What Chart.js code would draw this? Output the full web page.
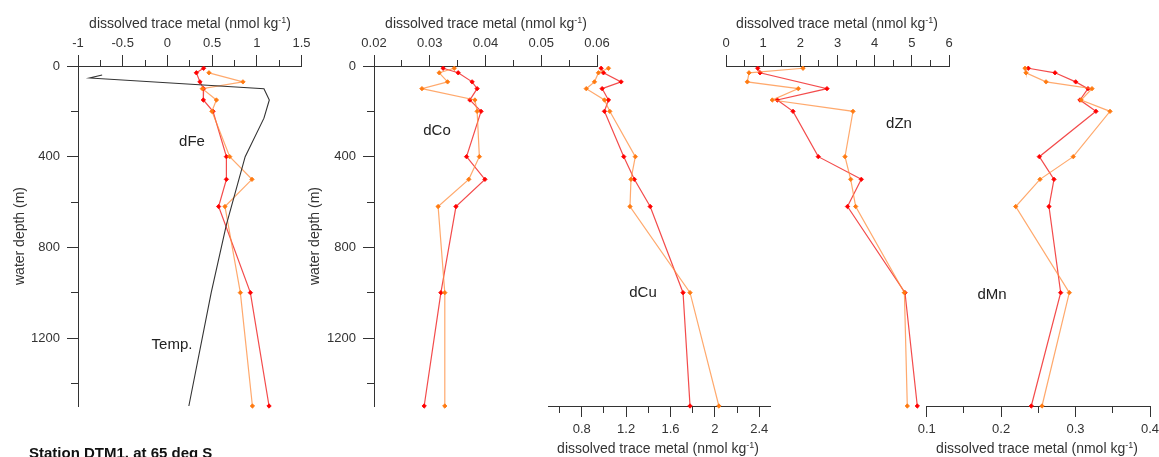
<!DOCTYPE html>
<html>
<head>
<meta charset="utf-8">
<script src="https://cdn.jsdelivr.net/npm/chart.js@4.4.1/dist/chart.umd.min.js"></script>
<style>
  html, body { margin: 0; padding: 0; background: #fff; }
  body { width: 1159px; height: 457px; position: relative; overflow: hidden;
         font-family: "Liberation Sans", Arial, sans-serif; color: #333; }
  canvas { position: absolute; top: 0; }
  .lbl { position: absolute; transform: translate(-50%, -50%); white-space: nowrap; }
  .axt { font-size: 14px; }
  .axt sup { font-size: 9px; line-height: 0; vertical-align: 5px; }
  .pl { font-size: 15px; color: #222; }
  #station { position: absolute; left: 29px; top: 445px; font-weight: bold; font-size: 15px;
             line-height: 15px; color: #111; white-space: nowrap; }
</style>
</head>
<body>
<canvas id="cFe" width="330" height="457" style="left:0px"></canvas>
<canvas id="cCo" width="330" height="457" style="left:290px"></canvas>
<canvas id="cCu" width="280" height="457" style="left:520px"></canvas>
<canvas id="cZn" width="280" height="457" style="left:700px"></canvas>
<canvas id="cMn" width="259" height="457" style="left:900px"></canvas>

<div class="lbl axt" style="left:190px;top:23px">dissolved trace metal (nmol kg<sup>-1</sup>)</div>
<div class="lbl axt" style="left:486px;top:23px">dissolved trace metal (nmol kg<sup>-1</sup>)</div>
<div class="lbl axt" style="left:837px;top:23px">dissolved trace metal (nmol kg<sup>-1</sup>)</div>
<div class="lbl axt" style="left:658px;top:448px">dissolved trace metal (nmol kg<sup>-1</sup>)</div>
<div class="lbl axt" style="left:1037px;top:448px">dissolved trace metal (nmol kg<sup>-1</sup>)</div>

<div class="lbl pl" style="left:192px;top:140px">dFe</div>
<div class="lbl pl" style="left:172px;top:343px">Temp.</div>
<div class="lbl pl" style="left:437px;top:129px">dCo</div>
<div class="lbl pl" style="left:643px;top:291px">dCu</div>
<div class="lbl pl" style="left:899px;top:122px">dZn</div>
<div class="lbl pl" style="left:992px;top:293px">dMn</div>
<div id="station">Station DTM1, at 65 deg S</div>

<script>
// sampling depths (m)
const depths = [10, 30, 70, 100, 150, 200, 400, 500, 620, 1000, 1500];

const feRed    = [0.405, 0.324, 0.364, 0.405, 0.402, 0.51, 0.66, 0.66, 0.573, 0.928, 1.137];
const feOrange = [null, 0.465, 0.845, 0.391, 0.548, 0.498, 0.697, 0.946, 0.644, 0.816, 0.951];

const tempDepths = [40, 53, 100, 150, 230, 400, 700, 1000, 1500];
const tempVals   = [-0.73, -0.87, 1.08, 1.14, 1.08, 0.87, 0.66, 0.49, 0.24];

const coRed    = [0.0324, 0.0351, 0.0376, 0.0385, 0.0372, 0.0392, 0.0366, 0.0399, 0.0347, 0.0320, 0.0290];
const coOrange = [0.0344, 0.0317, 0.0332, 0.0286, 0.0381, 0.0385, 0.0389, 0.0370, 0.0315, 0.0327, 0.0327];

const cuRed    = [0.975, 0.996, 1.155, 0.984, 1.041, 1.005, 1.179, 1.274, 1.417, 1.713, 1.776];
const cuOrange = [1.041, 0.951, 0.915, 0.841, 1.005, 1.053, 1.283, 1.244, 1.235, 1.776, 2.036];

const znRed    = [0.853, 0.915, null, 2.717, 1.380, 1.803, 2.483, 3.640, 3.269, 4.816, 5.147];
const znOrange = [2.072, 0.619, 0.573, 1.945, 1.246, 3.417, 3.202, 3.355, 3.489, 4.80, 4.878];

const mnRed    = [0.2365, 0.2724, 0.3002, 0.3167, 0.3059, 0.3274, 0.2513, 0.2710, 0.2643, 0.2800, 0.2405];
const mnOrange = [0.2321, 0.2334, 0.2603, 0.3221, 0.3074, 0.3463, 0.2969, 0.2522, 0.2196, 0.2916, 0.2549];

// ticks (all) and labelled ticks
const depthTicks  = [0, 200, 400, 600, 800, 1000, 1200, 1400];
const depthLabels = [0, 400, 800, 1200];
const feTicks  = [-1, -0.75, -0.5, -0.25, 0, 0.25, 0.5, 0.75, 1, 1.25, 1.5];
const feLabels = [-1, -0.5, 0, 0.5, 1, 1.5];
const coTicks  = [0.02, 0.025, 0.03, 0.035, 0.04, 0.045, 0.05, 0.055, 0.06];
const coLabels = [0.02, 0.03, 0.04, 0.05, 0.06];
const cuTicks  = [0.6, 0.8, 1, 1.2, 1.4, 1.6, 1.8, 2, 2.2, 2.4];
const cuLabels = [0.8, 1.2, 1.6, 2, 2.4];
const znTicks  = [0, 0.5, 1, 1.5, 2, 2.5, 3, 3.5, 4, 4.5, 5, 5.5, 6];
const znLabels = [0, 1, 2, 3, 4, 5, 6];
const mnTicks  = [0.1, 0.15, 0.2, 0.25, 0.3, 0.35, 0.4];
const mnLabels = [0.1, 0.2, 0.3, 0.4];

Chart.defaults.font.family = '"Liberation Sans", Arial, sans-serif';
Chart.defaults.font.size = 13;
Chart.defaults.color = '#333';

const TOP = 66, BOTTOM = 406, H = 457;
const INK = '#333';

function series(vals, dep, point, line) {
    return {
        data: dep.map((d, i) => ({ x: vals[i], y: d })).filter(p => p.x !== null),
        borderColor: line,
        backgroundColor: point,
        pointBackgroundColor: point,
        pointBorderColor: point,
        borderWidth: 1.2,
        pointRadius: 2.2,
        pointBorderWidth: 0.8,
        pointStyle: 'rectRot',
        tension: 0,
        clip: false
    };
}

// minor ticks are drawn shorter using a dash pattern
function tickGrid(labels, len, minorLen, fromFar) {
    return {
        drawOnChartArea: false,
        drawTicks: true,
        tickLength: len,
        tickColor: INK,
        tickWidth: 1,
        tickBorderDash: ctx => {
            if (!ctx.tick || labels.includes(ctx.tick.value)) return [];
            return fromFar ? [0, len - minorLen, minorLen, 40] : [minorLen, 40];
        }
    };
}

function profile(id, cfg) {
    const top = cfg.pos === 'top';
    new Chart(document.getElementById(id), {
        type: 'line',
        data: { datasets: cfg.sets },
        options: {
            responsive: false,
            animation: false,
            events: [],
            layout: { padding: {
                left: cfg.padL, right: cfg.padR,
                top: top ? 0 : TOP,
                bottom: top ? H - BOTTOM : 0
            } },
            plugins: { legend: { display: false }, tooltip: { enabled: false } },
            scales: {
                x: {
                    type: 'linear',
                    position: cfg.pos,
                    min: cfg.min, max: cfg.max,
                    border: { display: true, color: INK, width: 1 },
                    grid: tickGrid(cfg.labels, 11, 6, top),
                    ticks: {
                        autoSkip: false, maxRotation: 0, padding: top ? 4 : 5, color: INK,
                        callback: v => cfg.labels.includes(v) ? String(v) : ''
                    },
                    afterBuildTicks: s => { s.ticks = cfg.ticks.map(v => ({ value: v })); },
                    afterFit: s => {
                        s.height = top ? TOP : H - BOTTOM;
                        s.paddingLeft = 0; s.paddingRight = 0;
                    }
                },
                y: {
                    type: 'linear',
                    display: !!cfg.yWidth,
                    reverse: true,
                    min: 0, max: 1500,
                    border: { display: true, color: INK, width: 1 },
                    grid: tickGrid(depthLabels, 11, 7, true),
                    ticks: {
                        autoSkip: false, padding: 7, color: INK,
                        callback: v => depthLabels.includes(v) ? String(v) : ''
                    },
                    title: {
                        display: true, text: 'water depth (m)', color: INK,
                        font: { size: 14 }, padding: { top: cfg.titlePad || 0, bottom: 0 }
                    },
                    afterBuildTicks: s => { s.ticks = depthTicks.map(v => ({ value: v })); },
                    afterFit: s => {
                        if (cfg.yWidth) s.width = cfg.yWidth;
                        s.paddingTop = 0; s.paddingBottom = 0;
                    }
                }
            }
        }
    });
}

const RED = '#ff0000', RED_LINE = 'rgba(240,30,30,0.8)';
const ORG = '#ff7a10', ORG_LINE = 'rgba(255,140,60,0.75)';

profile('cFe', {
    pos: 'top', min: -1, max: 1.5, ticks: feTicks, labels: feLabels,
    yWidth: 78, titlePad: 11.6, padL: 0, padR: 28.5,
    sets: [
        Object.assign(series(tempVals, tempDepths, INK, INK), { pointRadius: 0, borderWidth: 1.1 }),
        series(feOrange, depths, ORG, ORG_LINE),
        series(feRed, depths, RED, RED_LINE)
    ]
});

profile('cCo', {
    pos: 'top', min: 0.02, max: 0.06, ticks: coTicks, labels: coLabels,
    yWidth: 84, titlePad: 16.6, padL: 0, padR: 23,
    sets: [series(coOrange, depths, ORG, ORG_LINE), series(coRed, depths, RED, RED_LINE)]
});

profile('cCu', {
    pos: 'bottom', min: 0.5, max: 2.5, ticks: cuTicks, labels: cuLabels,
    padL: 28.4, padR: 29.6,
    sets: [series(cuOrange, depths, ORG, ORG_LINE), series(cuRed, depths, RED, RED_LINE)]
});

profile('cZn', {
    pos: 'top', min: 0, max: 6, ticks: znTicks, labels: znLabels,
    padL: 26, padR: 31,
    sets: [series(znOrange, depths, ORG, ORG_LINE), series(znRed, depths, RED, RED_LINE)]
});

profile('cMn', {
    pos: 'bottom', min: 0.1, max: 0.4, ticks: mnTicks, labels: mnLabels,
    padL: 26.7, padR: 9,
    sets: [series(mnOrange, depths, ORG, ORG_LINE), series(mnRed, depths, RED, RED_LINE)]
});
</script>
</body>
</html>
